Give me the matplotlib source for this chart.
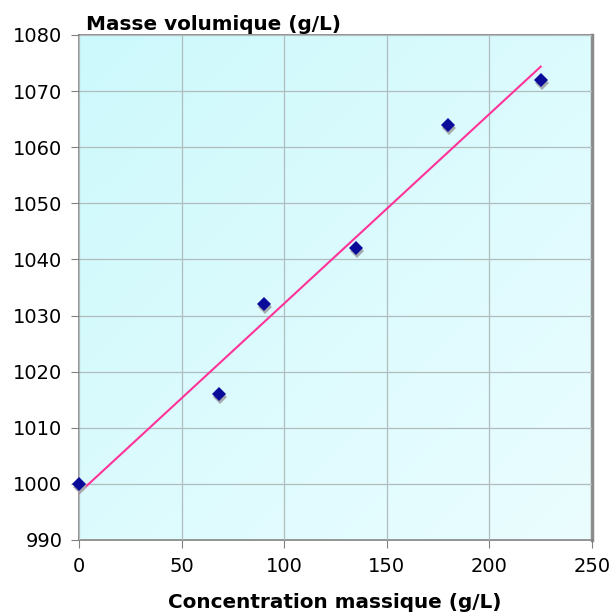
import numpy as np
import matplotlib.pyplot as plt
from matplotlib import transforms
from matplotlib.colors import LinearSegmentedColormap

concentration = [0, 68, 90, 135, 180, 225]
masse_vol = [1000, 1016, 1032, 1042, 1064, 1072]
x_ticks = [0, 50, 100, 150, 200, 250]
y_ticks = [990, 1000, 1010, 1020, 1030, 1040, 1050, 1060, 1070, 1080]

plt.rcParams['font.family'] = ['DejaVu Sans']

fig = plt.figure(figsize=(6.13, 6.13), dpi=100)
ax = fig.add_axes([79 / 613, 1 - 540 / 613, (592 - 79) / 613, (540 - 35) / 613])

# diagonal gradient background, darker at top left
gx, gy = np.meshgrid(np.linspace(0, 1, 200), np.linspace(0, 1, 200))
grad = (gx + gy) / 2
cmap = LinearSegmentedColormap.from_list("bg", ["#cdf9fc", "#ebfdff"])
ax.imshow(grad, extent=[0, 250, 990, 1080], cmap=cmap, aspect="auto", zorder=0)

ax.set_xlim(0, 250)
ax.set_ylim(990, 1080)
ax.set_xticks(x_ticks)
ax.set_yticks(y_ticks)
ax.grid(True, color="#b0bcbe", linewidth=0.9, zorder=1)
ax.set_axisbelow(False)

# regression line
a, b = np.polyfit(concentration, masse_vol, 1)
xs = np.array([concentration[0], concentration[-1]])
ax.plot(xs, a * xs + b, color="#ff3399", linewidth=1.5, zorder=3)

# markers with small shadow
shadow = transforms.offset_copy(ax.transData, fig=fig, x=1, y=-3, units="dots")
ax.plot(concentration, masse_vol, "D", color="#a4a9ac", markersize=7.5,
        markeredgewidth=0, transform=shadow, zorder=4, clip_on=False)
ax.plot(concentration, masse_vol, "D", color="#0b0b99", markersize=7.5,
        markeredgewidth=0, zorder=5, clip_on=False)

for s in ["left", "bottom", "top"]:
    ax.spines[s].set_color("#808080")
    ax.spines[s].set_linewidth(1.2)
ax.spines["right"].set_color("#8a8a8a")
ax.spines["right"].set_linewidth(2.5)

ax.tick_params(axis="both", direction="out", length=6, color="#808080",
               labelsize=14, pad=6)

fig.text(86 / 613, 1 - 24 / 613, "Masse volumique (g/L)", fontsize=14.4,
         fontweight="bold", ha="left", va="center")
fig.text(335 / 613, 1 - 602 / 613, "Concentration massique (g/L)", fontsize=14.4,
         fontweight="bold", ha="center", va="center")

fig.savefig("out.png", dpi=100)
